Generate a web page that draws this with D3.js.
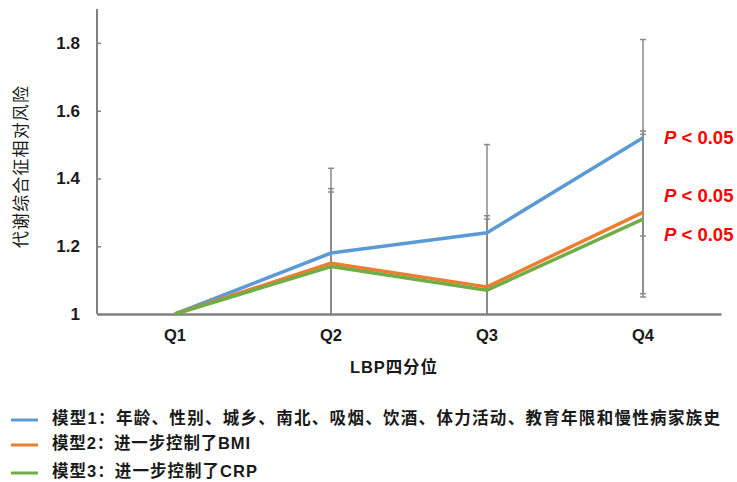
<!DOCTYPE html>
<html>
<head>
<meta charset="utf-8">
<script src="https://cdn.jsdelivr.net/npm/d3@7"></script>
<style>
  html, body { margin: 0; padding: 0; background: #fff; }
  svg { display: block; }
  text { font-family: "Liberation Sans", Arial, "Noto Sans CJK SC", sans-serif; }
</style>
</head>
<body>
<svg id="chart" width="737" height="482"></svg>
<script>
// Quartiles of LBP
const categories = ["Q1", "Q2", "Q3", "Q4"];

// Relative risk of metabolic syndrome per model
const model1 = [1, 1.18, 1.24, 1.52];
const model2 = [1, 1.15, 1.08, 1.30];
const model3 = [1, 1.14, 1.07, 1.28];

// Confidence interval bounds (Q1 is the reference group, no interval)
const model1Low  = [null, 0.93, 0.95, 1.23];
const model1High = [null, 1.43, 1.50, 1.81];
const model2Low  = [null, 0.92, 0.90, 1.06];
const model2High = [null, 1.37, 1.29, 1.54];
const model3Low  = [null, 0.91, 0.89, 1.05];
const model3High = [null, 1.36, 1.28, 1.53];

const yTicks = [1, 1.2, 1.4, 1.6, 1.8];
const seriesNames = [
  "模型1：年龄、性别、城乡、南北、吸烟、饮酒、体力活动、教育年限和慢性病家族史",
  "模型2：进一步控制了BMI",
  "模型3：进一步控制了CRP"
];
const pLabels = ["P < 0.05", "P < 0.05", "P < 0.05"];
const colors = ["#5B9BD5", "#ED7D31", "#70AD47"];

const series = [
  { values: model1, low: model1Low, high: model1High },
  { values: model2, low: model2Low, high: model2High },
  { values: model3, low: model3Low, high: model3High }
];

const svg = d3.select("#chart");
const plot = { left: 97, right: 721, top: 9, bottom: 314 };

const x = d3.scaleBand().domain(categories).range([plot.left, plot.right]);
const y = d3.scaleLinear().domain([1, 1.9]).range([plot.bottom, plot.top]);
const cx = c => x(c) + x.bandwidth() / 2;

svg.append("clipPath").attr("id", "plotClip")
  .append("rect").attr("x", plot.left).attr("y", plot.top)
  .attr("width", plot.right - plot.left).attr("height", plot.bottom - plot.top);

// Error bars
const eb = svg.append("g").attr("clip-path", "url(#plotClip)")
  .attr("stroke", "#8a8a8a").attr("stroke-width", 1.5);
series.forEach(s => {
  categories.forEach((c, i) => {
    if (s.low[i] == null) return;
    const xc = cx(c);
    eb.append("line").attr("x1", xc).attr("x2", xc).attr("y1", y(s.low[i])).attr("y2", y(s.high[i]));
    [s.low[i], s.high[i]].forEach(v => {
      eb.append("line").attr("x1", xc - 3).attr("x2", xc + 3).attr("y1", y(v)).attr("y2", y(v));
    });
  });
});

// Axes
const axisColor = "#808080";
const yAxis = d3.axisLeft(y).tickValues(yTicks).tickSizeInner(-4).tickSizeOuter(0)
  .tickFormat(d3.format("~g")).tickPadding(17);
const gy = svg.append("g").attr("transform", `translate(${plot.left},0)`).call(yAxis);
gy.select(".domain").attr("stroke", axisColor).attr("stroke-width", 2)
  .attr("d", `M0,${plot.top}V${plot.bottom}`);
gy.selectAll(".tick line").attr("stroke", axisColor).attr("stroke-width", 1.5);
gy.selectAll(".tick text").attr("fill", "#1a1a1a").attr("font-size", 17).attr("font-weight", "bold")
  .attr("font-family", "'Liberation Sans', Arial, sans-serif");

const xAxis = d3.axisBottom(x).tickSize(0).tickPadding(15);
const gx = svg.append("g").attr("transform", `translate(0,${plot.bottom})`).call(xAxis);
gx.select(".domain").attr("stroke", axisColor).attr("stroke-width", 2.5);
gx.selectAll(".tick text").attr("fill", "#1a1a1a").attr("font-size", 16.5).attr("font-weight", "bold")
  .attr("font-family", "'Liberation Sans', Arial, sans-serif");

// Lines
const line = d3.line().x((d, i) => cx(categories[i])).y(d => y(d));
series.forEach((s, k) => {
  svg.append("path").datum(s.values).attr("d", line).attr("fill", "none")
    .attr("stroke", colors[k]).attr("stroke-width", 3.5).attr("stroke-linejoin", "round");
});

// Significance labels next to the Q4 points
const pY = [y(model1[3]), y(model2[3]) - 17, y(model3[3]) + 15];
pLabels.forEach((lab, k) => {
  const t = svg.append("text").attr("x", 664).attr("y", pY[k]).attr("dy", "0.36em")
    .attr("fill", "#FF0000").attr("font-size", 18.5).attr("font-weight", "bold")
    .attr("font-family", "'Liberation Sans', Arial, sans-serif");
  t.append("tspan").attr("font-style", "italic").text(lab.slice(0, 1));
  t.append("tspan").text(lab.slice(1));
});

// Axis titles
svg.append("text").attr("x", 393.5).attr("y", 367).attr("dy", "0.36em").attr("text-anchor", "middle")
  .attr("font-size", 16.5).attr("font-weight", "bold").attr("fill", "#1a1a1a")
  .attr("textLength", 87).attr("lengthAdjust", "spacing").text("LBP四分位");

svg.append("text").attr("transform", "translate(21,167) rotate(-90)").attr("dy", "0.36em")
  .attr("text-anchor", "middle").attr("font-size", 17).attr("fill", "#1a1a1a")
  .attr("textLength", 162).attr("lengthAdjust", "spacing").text("代谢综合征相对风险");

// Legend
const legendY = [418, 443, 471];
const legendLen = [668, 198, 205];
seriesNames.forEach((name, k) => {
  svg.append("line").attr("x1", 11).attr("x2", 38).attr("y1", legendY[k] + 2).attr("y2", legendY[k] + 2)
    .attr("stroke", colors[k]).attr("stroke-width", 3);
  svg.append("text").attr("x", 52).attr("y", legendY[k]).attr("dy", "0.36em")
    .attr("font-size", 16.5).attr("font-weight", "bold").attr("fill", "#1a1a1a")
    .attr("textLength", legendLen[k]).attr("lengthAdjust", "spacing").text(name);
});
</script>
</body>
</html>
